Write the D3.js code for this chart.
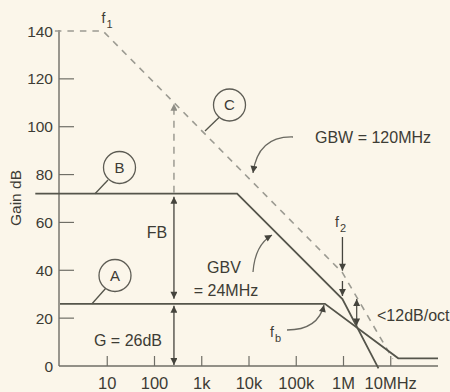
<!DOCTYPE html>
<html>
<head>
<meta charset="utf-8">
<script src="https://cdn.jsdelivr.net/npm/d3@7"></script>
<style>
  body { margin: 0; background: #fbf6ea; }
  svg text { font-family: "Liberation Sans", Arial, Helvetica, sans-serif; fill: #3d3c35; }
</style>
</head>
<body>
<svg id="chart" width="450" height="392"></svg>
<script>
// axis values
var yTicks = [0, 20, 40, 60, 80, 100, 120, 140];
var xTicks = [10, 100, 1e3, 1e4, 1e5, 1e6, 1e7];
var xTickLabels = ["10", "100", "1k", "10k", "100k", "1M", "10MHz"];

// curves as [freq Hz, gain dB]
var curveA = [[1, 26], [4.05e5, 26], [1.44e7, 3.2], [1e8, 3.2]];   // G = 26dB
var curveB = [[0.3, 72], [5.6e3, 72], [9.5e5, 28], [5.5e6, -1]];   // GBV = 24MHz
var curveC = [[0.78, 140], [8.1, 140], [9.5e5, 39], [1.1e7, 3]];   // open loop, GBW = 120MHz

var fMark = 258;     // FB / G arrows
var fSlope = 1.9e6;  // <12dB/oct arrow

var solid = "#55554b", dashed = "#9c9b92", axisCol = "#6f6e66";

var svg = d3.select("#chart");
var x = d3.scaleLog().domain([1, 1e8]).range([60, 438]);
var y = d3.scaleLinear().domain([0, 140]).range([366, 31]);

// gain of a curve at freq f (straight segments on log axis)
function gainAt(curve, f) {
  for (var i = 1; i < curve.length; i++) {
    if (f <= curve[i][0]) {
      var t = (Math.log10(f) - Math.log10(curve[i-1][0])) / (Math.log10(curve[i][0]) - Math.log10(curve[i-1][0]));
      return curve[i-1][1] + t * (curve[i][1] - curve[i-1][1]);
    }
  }
  return curve[curve.length-1][1];
}

// arrowhead
var defs = svg.append("defs");
function marker(id, col) {
  defs.append("marker")
    .attr("id", id)
    .attr("viewBox", "0 0 10 10")
    .attr("refX", 10).attr("refY", 5)
    .attr("markerWidth", 8).attr("markerHeight", 7)
    .attr("markerUnits", "userSpaceOnUse")
    .attr("orient", "auto-start-reverse")
    .append("path").attr("d", "M0,0L10,5L0,10z").attr("fill", col);
}
marker("ah", "#45443d");
marker("ahd", "#8f8e86");

// axes
svg.append("line").attr("x1", 59).attr("x2", 59).attr("y1", 30).attr("y2", 366)
  .attr("stroke", axisCol).attr("stroke-width", 1.4);
svg.append("line").attr("x1", 59).attr("x2", 438).attr("y1", 366).attr("y2", 366)
  .attr("stroke", axisCol).attr("stroke-width", 1.4);

svg.selectAll(".ytick").data(yTicks.filter(function (d) { return d > 0 && d < 140; }))
  .enter().append("line")
  .attr("x1", 59).attr("x2", 74)
  .attr("y1", function (d) { return y(d); }).attr("y2", function (d) { return y(d); })
  .attr("stroke", axisCol).attr("stroke-width", 1.2);

svg.selectAll(".ylab").data(yTicks).enter().append("text")
  .attr("x", 53).attr("y", function (d) { return y(d); })
  .attr("dy", "0.36em").attr("text-anchor", "end")
  .style("font-size", "15.5px")
  .text(function (d) { return d; });

svg.selectAll(".xtick").data(xTicks).enter().append("line")
  .attr("x1", function (d) { return x(d); }).attr("x2", function (d) { return x(d); })
  .attr("y1", 356).attr("y2", 366)
  .attr("stroke", axisCol).attr("stroke-width", 1.2);

svg.selectAll(".xlab").data(xTicks).enter().append("text")
  .attr("x", function (d) { return x(d); }).attr("y", 389)
  .attr("text-anchor", "middle")
  .style("font-size", "16.5px")
  .text(function (d, i) { return xTickLabels[i]; });

svg.append("text")
  .attr("transform", "translate(21,198) rotate(-90)")
  .attr("text-anchor", "middle")
  .style("font-size", "15.5px")
  .text("Gain dB");

// curves
var line = d3.line().x(function (d) { return x(d[0]); }).y(function (d) { return y(d[1]); });

svg.append("path").datum(curveC).attr("d", line)
  .attr("fill", "none").attr("stroke", dashed).attr("stroke-width", 1.6)
  .attr("stroke-dasharray", "6.5,6");
svg.append("path").datum(curveA).attr("d", line)
  .attr("fill", "none").attr("stroke", solid).attr("stroke-width", 1.8);
svg.append("path").datum(curveB).attr("d", line)
  .attr("fill", "none").attr("stroke", solid).attr("stroke-width", 1.8);

// vertical arrows
var xm = x(fMark);
svg.append("line").attr("x1", xm).attr("x2", xm)
  .attr("y1", y(72) - 1).attr("y2", y(gainAt(curveC, fMark)) + 1)
  .attr("stroke", dashed).attr("stroke-width", 1.5).attr("stroke-dasharray", "7,6")
  .attr("marker-end", "url(#ahd)");
svg.append("line").attr("x1", xm).attr("x2", xm)
  .attr("y1", y(72) + 3).attr("y2", y(26) - 5)
  .attr("stroke", "#45443d").attr("stroke-width", 1.3)
  .attr("marker-start", "url(#ah)").attr("marker-end", "url(#ah)");
svg.append("line").attr("x1", xm).attr("x2", xm)
  .attr("y1", y(26) + 2).attr("y2", y(0) - 1)
  .attr("stroke", "#45443d").attr("stroke-width", 1.3)
  .attr("marker-start", "url(#ah)").attr("marker-end", "url(#ah)");

// f2 arrows
var f2 = curveB[2][0];
var x2 = x(f2);
svg.append("line").attr("x1", x2).attr("x2", x2)
  .attr("y1", 237).attr("y2", y(gainAt(curveC, f2)) - 2)
  .attr("stroke", "#45443d").attr("stroke-width", 1.3).attr("marker-end", "url(#ah)");
svg.append("line").attr("x1", x2).attr("x2", x2)
  .attr("y1", 281).attr("y2", y(curveB[2][1]) - 3)
  .attr("stroke", "#45443d").attr("stroke-width", 1.3).attr("marker-end", "url(#ah)");

// <12dB/oct arrow
var xs = x(fSlope);
svg.append("line").attr("x1", xs).attr("x2", xs)
  .attr("y1", y(gainAt(curveC, fSlope)) + 2).attr("y2", y(gainAt(curveB, fSlope)) - 1)
  .attr("stroke", "#55544c").attr("stroke-width", 1.3)
  .attr("marker-start", "url(#ah)").attr("marker-end", "url(#ah)");

// curved pointer arrows
function curved(d) {
  svg.append("path").attr("d", d).attr("fill", "none")
    .attr("stroke", "#6a6961").attr("stroke-width", 1.3).attr("marker-end", "url(#ah)");
}
curved("M293,137 Q258,136 253,173");   // GBW
curved("M253,272 Q255,245 272,235");   // GBV
curved("M287,330 Q318,330 324,305");   // fb

// circled letters
function circled(cx, cy, lx1, ly1, lx2, ly2, t) {
  svg.append("line").attr("x1", lx1).attr("y1", ly1).attr("x2", lx2).attr("y2", ly2)
    .attr("stroke", solid).attr("stroke-width", 1.3);
  svg.append("circle").attr("cx", cx).attr("cy", cy).attr("r", 16)
    .attr("fill", "#fbf6ea").attr("stroke", "#5d5c54").attr("stroke-width", 1.3);
  svg.append("text").attr("x", cx).attr("y", cy).attr("dy", "0.36em")
    .attr("text-anchor", "middle").style("font-size", "15px").text(t);
}
circled(119.5, 167.5, 108, 180, 95, y(72), "B");
circled(115, 275.5, 106, 288, 92, y(26), "A");
circled(229.5, 105, 219, 117.5, 205, 131, "C");

// text labels
function label(tx, ty, t, size, anchor) {
  svg.append("text").attr("x", tx).attr("y", ty)
    .attr("text-anchor", anchor || "start").style("font-size", size + "px").text(t);
}
label(157, 238, "FB", 16, "middle");
label(128, 346, "G = 26dB", 16, "middle");
label(224, 273, "GBV", 16, "middle");
label(226, 295.5, "= 24MHz", 16, "middle");
label(315, 143, "GBW = 120MHz", 16);
label(377, 320.5, "<12dB/oct", 16);

function fLabel(tx, ty, sub) {
  label(tx, ty, "f", 14);
  label(tx + 5, ty + 5, sub, 11);
}
fLabel(101.5, 23, "1");
fLabel(335, 227, "2");
fLabel(270, 337, "b");
</script>
</body>
</html>
